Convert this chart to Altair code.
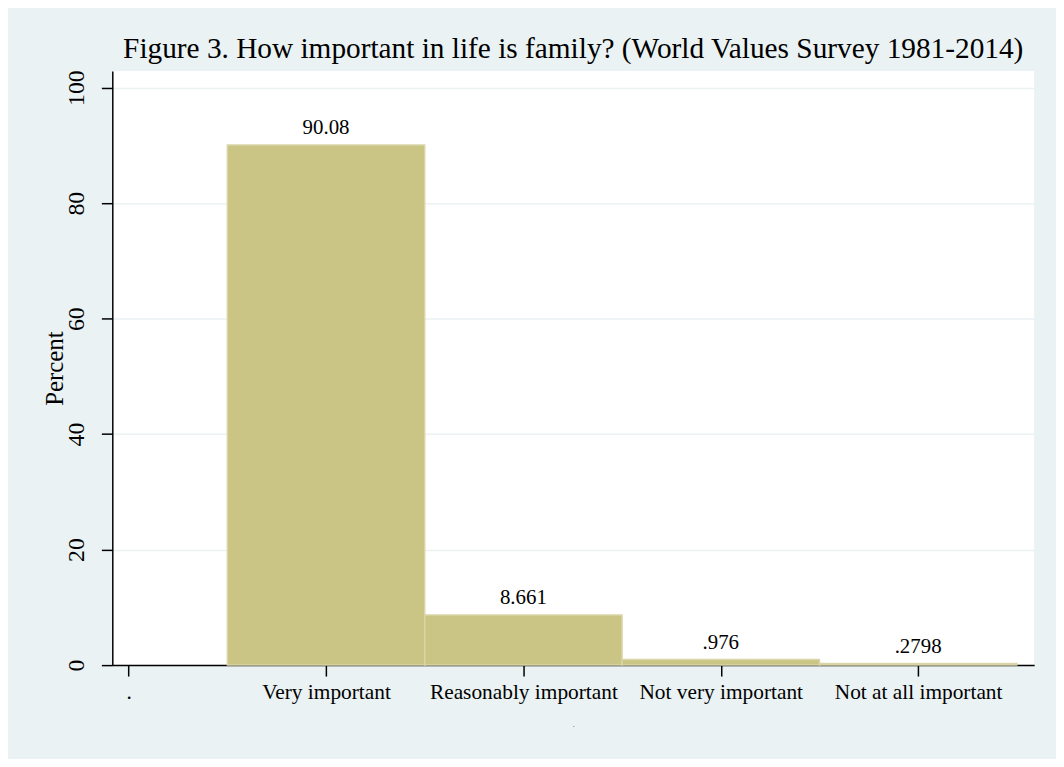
import json
import altair as alt
import pandas as pd

categories = [".", "Very important", "Reasonably important", "Not very important", "Not at all important"]
percents = [None, 90.08, 8.661, 0.976, 0.2798]
value_labels = ["", "90.08", "8.661", ".976", ".2798"]
y_ticks = [0, 20, 40, 60, 80, 100]

rows = []
for i, (c, v, t) in enumerate(zip(categories, percents, value_labels)):
    if v is None:
        continue
    rows.append({"idx": i, "lo": i - 0.5, "hi": i + 0.5, "category": c, "pct": v, "label": t})
df = pd.DataFrame(rows)

FONT = "Liberation Serif"
label_expr = json.dumps(categories) + "[datum.value]"

xscale = alt.Scale(domain=[-0.083, 4.588], nice=False, zero=False)
yscale = alt.Scale(domain=[0, 102.87], nice=False, zero=True)

xaxis = alt.Axis(
    values=list(range(len(categories))),
    labelExpr=label_expr,
    title=".",
    titleFontSize=6,
    titleFontWeight="normal",
    titlePadding=18,
    labelFontSize=21.5,
    labelPadding=6,
    labelFont=FONT,
    titleFont=FONT,
    tickSize=11,
    tickColor="black",
    tickWidth=1.5,
    domainColor="black",
    domainWidth=1.5,
    grid=False,
    labelColor="black",
    labelOverlap=False,
    labelLimit=0,
)

yaxis = alt.Axis(
    values=y_ticks,
    title="Percent",
    titleFont=FONT,
    titleFontSize=25,
    titleFontWeight="normal",
    titleColor="black",
    titlePadding=-3,
    labelFont=FONT,
    labelFontSize=24,
    labelAngle=270,
    labelAlign="center",
    labelBaseline="alphabetic",
    labelPadding=18,
    labelColor="black",
    tickSize=11,
    tickColor="black",
    tickWidth=1.5,
    domainColor="black",
    domainWidth=1.5,
    grid=True,
    gridColor="#EAF2F3",
    gridWidth=1.5,
)

base = alt.Chart(df)

bars = base.mark_rect(color="#CAC485", stroke="#D9D5A8", strokeWidth=1.5).encode(
    x=alt.X("lo:Q", scale=xscale, axis=xaxis),
    x2="hi:Q",
    y=alt.Y("pct:Q", scale=yscale, axis=yaxis),
    y2=alt.datum(0),
)

texts = base.mark_text(font=FONT, fontSize=21, color="black", baseline="alphabetic", dy=-11).encode(
    x=alt.X("idx:Q", scale=xscale),
    y=alt.Y("pct:Q", scale=yscale),
    text="label:N",
)

chart = (
    alt.layer(bars, texts)
    .properties(
        width=928,
        height=598,
        background="#EAF2F3",
        autosize=alt.AutoSizeParams(type="none"),
        padding={"left": 105, "top": 61, "right": 22, "bottom": 92},
        title=alt.TitleParams(
            text="Figure 3. How important in life is family? (World Values Survey 1981-2014)",
            font=FONT,
            fontSize=29.5,
            fontWeight="normal",
            color="black",
            anchor="middle",
            offset=5,
        ),
    )
    .configure_view(fill="white", stroke=None)
)

chart.save("out.html", embed_options={"renderer": "svg", "actions": False})
